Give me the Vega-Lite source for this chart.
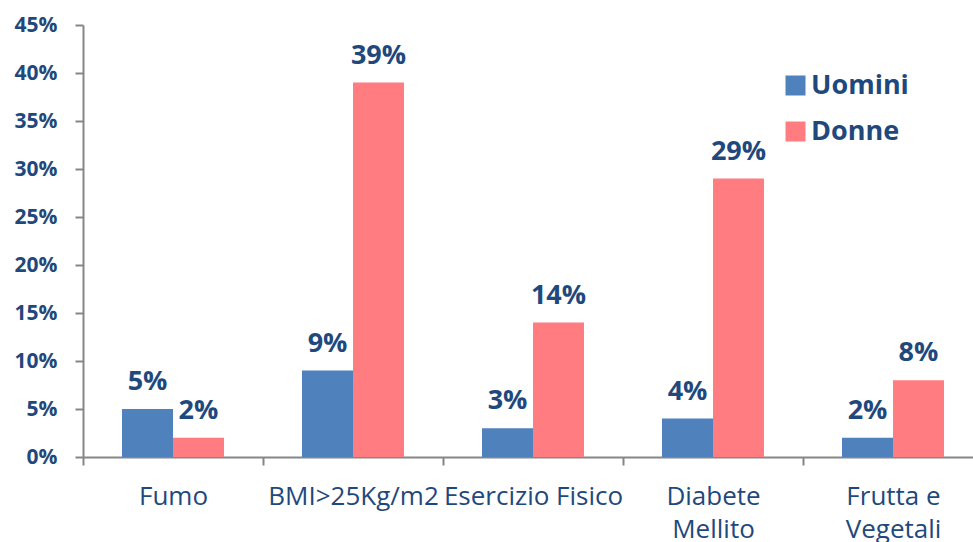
{
  "$schema": "https://vega.github.io/schema/vega-lite/v6.json",
  "autosize": "none",
  "width": 900,
  "height": 432,
  "padding": {"left": 83, "top": 25, "right": 0, "bottom": 85},
  "background": "white",
  "config": {"view": {"stroke": null}, "font": "Open Sans"},
  "data": {
    "values": [
      {"categoria": "Fumo", "sesso": "Uomini", "valore": 0.05},
      {"categoria": "Fumo", "sesso": "Donne", "valore": 0.02},
      {"categoria": "BMI>25Kg/m2", "sesso": "Uomini", "valore": 0.09},
      {"categoria": "BMI>25Kg/m2", "sesso": "Donne", "valore": 0.39},
      {"categoria": "Esercizio Fisico", "sesso": "Uomini", "valore": 0.03},
      {"categoria": "Esercizio Fisico", "sesso": "Donne", "valore": 0.14},
      {"categoria": "Diabete Mellito", "sesso": "Uomini", "valore": 0.04},
      {"categoria": "Diabete Mellito", "sesso": "Donne", "valore": 0.29},
      {"categoria": "Frutta e Vegetali", "sesso": "Uomini", "valore": 0.02},
      {"categoria": "Frutta e Vegetali", "sesso": "Donne", "valore": 0.08}
    ]
  },
  "encoding": {
    "x": {
      "field": "categoria",
      "type": "nominal",
      "sort": null,
      "scale": {"paddingInner": 0, "paddingOuter": 0},
      "axis": {
        "title": null,
        "labelAngle": 0,
        "labelFont": "Open Sans",
        "labelFontSize": 26,
        "labelColor": "#1F497D",
        "labelPadding": 18,
        "labelLineHeight": 33,
        "labelBaseline": "top",
        "labelExpr": "datum.label == 'Diabete Mellito' ? ['Diabete', 'Mellito'] : datum.label == 'Frutta e Vegetali' ? ['Frutta e', 'Vegetali'] : datum.label",
        "tickBand": "extent",
        "tickSize": 8,
        "tickColor": "#868686",
        "tickWidth": 2,
        "domainColor": "#868686",
        "domainWidth": 2,
        "labelOverlap": false
      }
    },
    "xOffset": {
      "field": "sesso",
      "type": "nominal",
      "sort": ["Uomini", "Donne"],
      "scale": {"paddingInner": 0, "paddingOuter": 0.765}
    },
    "y": {
      "field": "valore",
      "type": "quantitative",
      "scale": {"domain": [0, 0.45], "nice": false},
      "axis": {
        "title": null,
        "values": [0, 0.05, 0.1, 0.15, 0.2, 0.25, 0.3, 0.35, 0.4, 0.45],
        "format": ".0%",
        "grid": false,
        "labelFont": "Open Sans",
        "labelFontSize": 21,
        "labelFontWeight": "bold",
        "labelColor": "#1F497D",
        "labelPadding": 18,
        "tickSize": 8,
        "tickColor": "#868686",
        "tickWidth": 2,
        "domainColor": "#868686",
        "domainWidth": 2
      }
    }
  },
  "layer": [
    {
      "mark": {"type": "bar"},
      "encoding": {
        "color": {
          "field": "sesso",
          "type": "nominal",
          "sort": ["Uomini", "Donne"],
          "scale": {"domain": ["Uomini", "Donne"], "range": ["#4F81BD", "#FF7C80"]},
          "legend": {
            "title": null,
            "orient": "none",
            "legendX": 699,
            "legendY": 47,
            "padding": 0,
            "symbolType": "square",
            "symbolSize": 400,
            "symbolStrokeWidth": 0,
            "labelFont": "Open Sans",
            "labelFontSize": 27,
            "labelFontWeight": "bold",
            "labelColor": "#1F497D",
            "labelOffset": 2,
            "rowPadding": 18
          }
        }
      }
    },
    {
      "mark": {
        "type": "text",
        "baseline": "alphabetic",
        "dy": -19,
        "font": "Open Sans",
        "fontSize": 27,
        "fontWeight": "bold",
        "color": "#1F497D"
      },
      "encoding": {
        "text": {"field": "valore", "type": "quantitative", "format": ".0%"}
      }
    }
  ]
}
